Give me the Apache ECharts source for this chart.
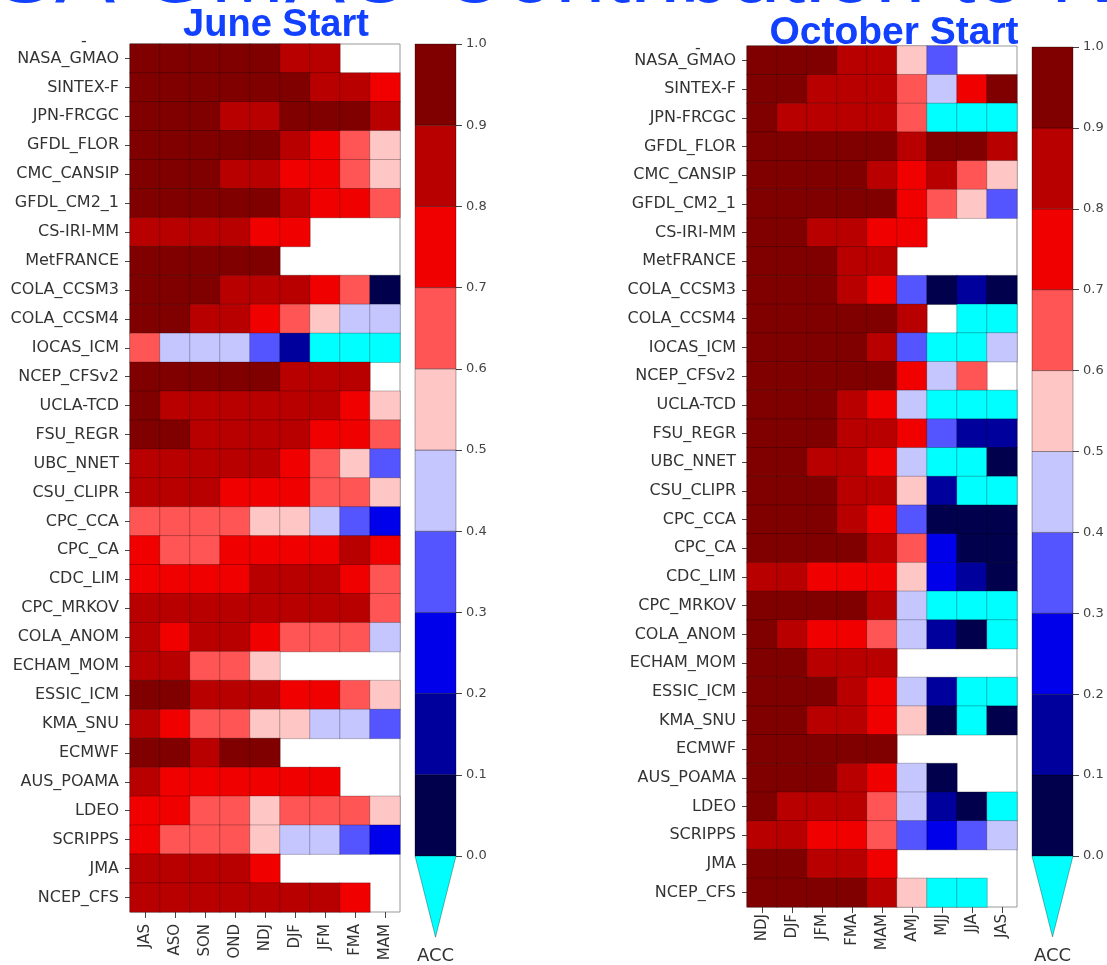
<!DOCTYPE html>
<html>
<head>
<meta charset="utf-8">
<script src="https://cdn.jsdelivr.net/npm/echarts@6/dist/echarts.min.js"></script>
<style>html,body{margin:0;padding:0;background:#fff;}#c{width:1107px;height:965px;}</style>
</head>
<body>
<div id="c"></div>
<script>
const models = ['NASA_GMAO','SINTEX-F','JPN-FRCGC','GFDL_FLOR','CMC_CANSIP','GFDL_CM2_1','CS-IRI-MM','MetFRANCE','COLA_CCSM3','COLA_CCSM4','IOCAS_ICM','NCEP_CFSv2','UCLA-TCD','FSU_REGR','UBC_NNET','CSU_CLIPR','CPC_CCA','CPC_CA','CDC_LIM','CPC_MRKOV','COLA_ANOM','ECHAM_MOM','ESSIC_ICM','KMA_SNU','ECMWF','AUS_POAMA','LDEO','SCRIPPS','JMA','NCEP_CFS'];
const juneSeasons = ['JAS','ASO','SON','OND','NDJ','DJF','JFM','FMA','MAM'];
const octSeasons = ['NDJ','DJF','JFM','FMA','MAM','AMJ','MJJ','JJA','JAS'];
const colorbarTicks = [0,0.1,0.2,0.3,0.4,0.5,0.6,0.7,0.8,0.9,1.0];

// ACC, June start (rows = models, cols = juneSeasons); null = no forecast
const juneACC = [
 [.95,.95,.95,.95,.95,.85,.85,null,null],
 [.95,.95,.95,.95,.95,.95,.85,.85,.75],
 [.95,.95,.95,.85,.85,.95,.95,.95,.85],
 [.95,.95,.95,.95,.95,.85,.75,.65,.55],
 [.95,.95,.95,.85,.85,.75,.75,.65,.55],
 [.95,.95,.95,.95,.95,.85,.75,.75,.65],
 [.85,.85,.85,.85,.75,.75,null,null,null],
 [.95,.95,.95,.95,.95,null,null,null,null],
 [.95,.95,.95,.85,.85,.85,.75,.65,.05],
 [.95,.95,.85,.85,.75,.65,.55,.45,.45],
 [.65,.45,.45,.45,.35,.15,-.1,-.1,-.1],
 [.95,.95,.95,.95,.95,.85,.85,.85,null],
 [.95,.85,.85,.85,.85,.85,.85,.75,.55],
 [.95,.95,.85,.85,.85,.85,.75,.75,.65],
 [.85,.85,.85,.85,.85,.75,.65,.55,.35],
 [.85,.85,.85,.75,.75,.75,.65,.65,.55],
 [.65,.65,.65,.65,.55,.55,.45,.35,.25],
 [.75,.65,.65,.75,.75,.75,.75,.85,.75],
 [.75,.75,.75,.75,.85,.85,.85,.75,.65],
 [.85,.85,.85,.85,.85,.85,.85,.85,.65],
 [.85,.75,.85,.85,.75,.65,.65,.65,.45],
 [.85,.85,.65,.65,.55,null,null,null,null],
 [.95,.95,.85,.85,.85,.75,.75,.65,.55],
 [.85,.75,.65,.65,.55,.55,.45,.45,.35],
 [.95,.95,.85,.95,.95,null,null,null,null],
 [.85,.75,.75,.75,.75,.75,.75,null,null],
 [.75,.75,.65,.65,.55,.65,.65,.65,.55],
 [.75,.65,.65,.65,.55,.45,.45,.35,.25],
 [.85,.85,.85,.85,.75,null,null,null,null],
 [.85,.85,.85,.85,.85,.85,.85,.75,null]
];

// ACC, October start (rows = models, cols = octSeasons)
const octACC = [
 [.95,.95,.95,.85,.85,.55,.35,null,null],
 [.95,.95,.85,.85,.85,.65,.45,.75,.95],
 [.95,.85,.85,.85,.85,.65,-.1,-.1,-.1],
 [.95,.95,.95,.95,.95,.85,.95,.95,.85],
 [.95,.95,.95,.95,.85,.75,.85,.65,.55],
 [.95,.95,.95,.95,.95,.75,.65,.55,.35],
 [.95,.95,.85,.85,.75,.75,null,null,null],
 [.95,.95,.95,.85,.85,null,null,null,null],
 [.95,.95,.95,.85,.75,.35,.05,.15,.05],
 [.95,.95,.95,.95,.95,.85,null,-.1,-.1],
 [.95,.95,.95,.95,.85,.35,-.1,-.1,.45],
 [.95,.95,.95,.95,.95,.75,.45,.65,null],
 [.95,.95,.95,.85,.75,.45,-.1,-.1,-.1],
 [.95,.95,.95,.85,.85,.75,.35,.15,.15],
 [.95,.95,.85,.85,.75,.45,-.1,-.1,.05],
 [.95,.95,.95,.85,.85,.55,.15,-.1,-.1],
 [.95,.95,.95,.85,.75,.35,.05,.05,.05],
 [.95,.95,.95,.95,.85,.65,.25,.05,.05],
 [.85,.85,.75,.75,.75,.55,.25,.15,.05],
 [.95,.95,.95,.95,.85,.45,-.1,-.1,-.1],
 [.95,.85,.75,.75,.65,.45,.15,.05,-.1],
 [.95,.95,.85,.85,.85,null,null,null,null],
 [.95,.95,.95,.85,.75,.45,.15,-.1,-.1],
 [.95,.95,.85,.85,.75,.55,.05,-.1,.05],
 [.95,.95,.95,.95,.95,null,null,null,null],
 [.95,.95,.95,.85,.75,.45,.05,null,null],
 [.95,.85,.85,.85,.65,.45,.15,.05,-.1],
 [.85,.85,.75,.75,.65,.35,.25,.35,.45],
 [.95,.95,.85,.85,.75,null,null,null,null],
 [.95,.95,.95,.95,.85,.55,-.1,-.1,null]
];

function toCells(rows) {
  const out = [];
  rows.forEach((row, yi) => row.forEach((v, xi) => { if (v !== null) out.push([xi, yi, v]); }));
  return out;
}
// colorbar segments [x, lo, mid, hi]; the last one is the under-range extension
function colorbarSegments() {
  const segs = [];
  for (let i = 0; i < colorbarTicks.length - 1; i++) {
    const lo = colorbarTicks[i], hi = colorbarTicks[i + 1];
    segs.push([0, lo, (lo + hi) / 2, hi]);
  }
  segs.push([0, -0.1, -0.05, 0]);
  return segs;
}

const labelFont = 'DejaVu Sans';
const txt = '#333';

function heatGrid(left, top, height) {
  return { left: left, top: top, width: 270, height: height, show: true, borderColor: '#999', borderWidth: 1, backgroundColor: '#fff' };
}
function catX(idx, data, margin) {
  return {
    type: 'category', gridIndex: idx, data: data, position: 'bottom',
    axisLine: { show: false },
    axisTick: { show: true, alignWithLabel: true, length: 6, lineStyle: { color: '#444' } },
    axisLabel: { rotate: 90, fontFamily: labelFont, fontSize: 15, color: txt, margin: margin, interval: 0 },
    splitLine: { show: false }
  };
}
function catY(idx) {
  return {
    type: 'category', gridIndex: idx, data: models, inverse: true,
    axisLine: { show: false },
    axisTick: { show: true, alignWithLabel: true, length: 5, lineStyle: { color: '#444' } },
    axisLabel: { fontFamily: labelFont, fontSize: 16, color: txt, margin: 11, interval: 0 },
    splitLine: { show: false }
  };
}
function cbX(idx) {
  return {
    type: 'category', gridIndex: idx, data: ['ACC'],
    axisLine: { show: false }, axisTick: { show: false },
    axisLabel: { fontFamily: labelFont, fontSize: 18, color: txt, margin: 91 }
  };
}
function cbY(idx) {
  return {
    type: 'value', gridIndex: idx, min: 0, max: 1, interval: 0.1, position: 'right',
    axisLine: { show: false },
    axisTick: { show: true, length: 6, lineStyle: { color: '#444' } },
    axisLabel: { fontFamily: labelFont, fontSize: 13, color: '#444', margin: 10, formatter: v => v.toFixed(1) },
    splitLine: { show: false }
  };
}
function cbRender(params, api) {
  const lo = api.value(1), hi = api.value(3);
  const pTop = api.coord([0, hi]);
  const pBot = api.coord([0, lo]);
  const w = api.size([1, 0])[0];
  const style = { fill: api.visual('color'), stroke: 'rgba(0,0,0,0.45)', lineWidth: 0.7 };
  if (lo < 0) {
    return { type: 'polygon', shape: { points: [[pTop[0] - w / 2, pTop[1]], [pTop[0] + w / 2, pTop[1]], [pBot[0], pBot[1]]] }, style: style };
  }
  return { type: 'rect', shape: { x: pTop[0] - w / 2, y: pTop[1], width: w, height: pBot[1] - pTop[1] }, style: style };
}

const chart = echarts.init(document.getElementById('c'), null, { renderer: 'canvas' });
const titleBlue = '#1240ff';
chart.setOption({
  animation: false,
  backgroundColor: '#fff',
  grid: [
    heatGrid(130, 44, 868),
    heatGrid(747, 46, 861),
    { left: 415, top: 44, width: 41, height: 814 },
    { left: 1032, top: 47, width: 41, height: 814 }
  ],
  xAxis: [catX(0, juneSeasons, 12), catX(1, octSeasons, 7), cbX(2), cbX(3)],
  yAxis: [catY(0), catY(1), cbY(2), cbY(3)],
  visualMap: {
    type: 'piecewise', show: false, dimension: 2, seriesIndex: [0, 1, 2, 3],
    pieces: [
      { lt: 0, color: '#00ffff' },
      { gte: 0, lt: 0.1, color: '#00004c' },
      { gte: 0.1, lt: 0.2, color: '#00009c' },
      { gte: 0.2, lt: 0.3, color: '#0000eb' },
      { gte: 0.3, lt: 0.4, color: '#5555ff' },
      { gte: 0.4, lt: 0.5, color: '#c6c6ff' },
      { gte: 0.5, lt: 0.6, color: '#ffc6c6' },
      { gte: 0.6, lt: 0.7, color: '#ff5555' },
      { gte: 0.7, lt: 0.8, color: '#f10000' },
      { gte: 0.8, lt: 0.9, color: '#b80000' },
      { gte: 0.9, lte: 1.0, color: '#800000' }
    ]
  },
  series: [
    { type: 'heatmap', xAxisIndex: 0, yAxisIndex: 0, data: toCells(juneACC), itemStyle: { borderColor: 'rgba(0,0,0,0.3)', borderWidth: 0.8 } },
    { type: 'heatmap', xAxisIndex: 1, yAxisIndex: 1, data: toCells(octACC), itemStyle: { borderColor: 'rgba(0,0,0,0.3)', borderWidth: 0.8 } },
    { type: 'custom', xAxisIndex: 2, yAxisIndex: 2, data: colorbarSegments(), renderItem: cbRender, clip: false },
    { type: 'custom', xAxisIndex: 3, yAxisIndex: 3, data: colorbarSegments(), renderItem: cbRender, clip: false }
  ],
  graphic: [
    { type: 'text', x: -130, y: -23, style: { text: 'NASA GMAO Contribution to NMME', font: 'normal 90px "Liberation Sans", Arial, sans-serif', fill: titleBlue, align: 'left', verticalAlign: 'middle' } },
    { type: 'text', x: 276, y: 26, style: { text: 'June Start', font: 'bold 38px "Liberation Sans", Arial, sans-serif', fill: titleBlue, align: 'center', verticalAlign: 'middle' } },
    { type: 'text', x: 894, y: 33, style: { text: 'October Start', font: 'bold 39px "Liberation Sans", Arial, sans-serif', fill: titleBlue, align: 'center', verticalAlign: 'middle' } },
    { type: 'text', x: 84, y: 42, style: { text: '-', font: '16px "DejaVu Sans"', fill: '#333', align: 'center', verticalAlign: 'middle' } },
    { type: 'text', x: 698, y: 49, style: { text: '-', font: '16px "DejaVu Sans"', fill: '#333', align: 'center', verticalAlign: 'middle' } }
  ]
});
</script>
</body>
</html>
